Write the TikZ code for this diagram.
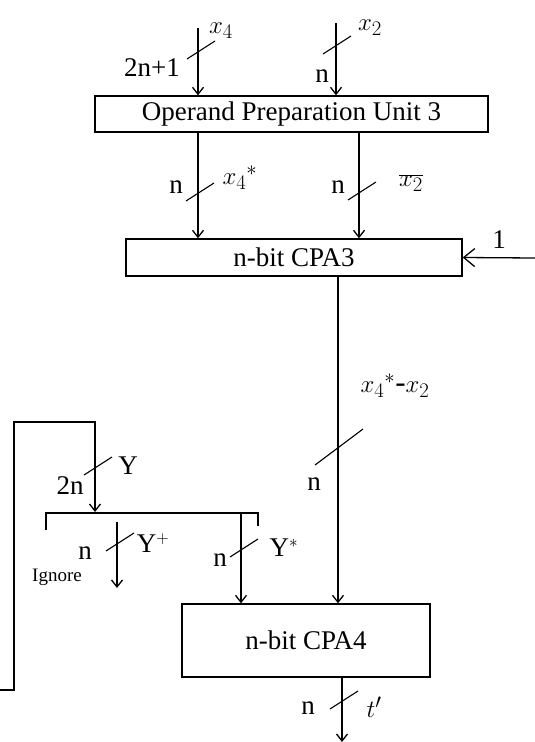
\documentclass[tikz,border=0pt]{standalone}
\usepackage{fontspec}
\setmainfont{Liberation Serif}
\usetikzlibrary{arrows.meta}

\begin{document}
\begin{tikzpicture}[x=1pt, y=-1pt,
  unit/.style={draw, line width=1.4pt, inner sep=0pt, font=\fontsize{27}{30}\selectfont},
  wire/.style={-{Straight Barb[length=7pt, width=11pt]}, line width=1.3pt},
  plain/.style={line width=1.3pt},
  bus/.style={line width=1.1pt},
  lbl/.style={inner sep=0pt, font=\fontsize{27}{30}\selectfont},
  mlbl/.style={inner sep=0pt, font=\fontsize{31}{34}\selectfont},
  note/.style={inner sep=0pt, font=\fontsize{19}{21}\selectfont}
]
\useasboundingbox (0,0) rectangle (535,742);

% blocks
\node[unit, minimum width=393pt, minimum height=36pt] (opu) at (291.5,114) {Operand Preparation Unit 3};
\node[unit, minimum width=336pt, minimum height=37pt] (cpa3) at (294,257.5) {n-bit CPA3};
\node[unit, minimum width=248pt, minimum height=73pt] (cpa4) at (306,640.5) {n-bit CPA4};

% free ends and columns
\coordinate (x4in) at (198,28);
\coordinate (x2in) at (336,23);
\coordinate (x2col) at (359,0);
\coordinate (onein) at (535,258);
\coordinate (sumcol) at (338,0);
\coordinate (fbin) at (0,690);
\coordinate (ysplit) at (95,512);
\coordinate (ystar) at (241,513);
\coordinate (yplus) at (117,522);
\coordinate (yign) at (117,588);
\coordinate (tout) at (342,742);

% connectors
\draw[wire] (x4in) -- (x4in |- opu.north);
\draw[wire] (x2in) -- (x2in |- opu.north);
\draw[wire] (opu.south -| x4in) -- (cpa3.north -| x4in);
\draw[wire] (opu.south -| x2col) -- (cpa3.north -| x2col);
\draw[wire, -{Straight Barb[length=11pt, width=18pt]}] (onein) -- (cpa3.east);
\draw[wire] (cpa3.south -| sumcol) -- (cpa4.north -| sumcol);
\draw[wire] (fbin) -- (14,690) -- (14,422) -| (ysplit);
\draw[plain] (46,530) -- (46,513) -- (258,513) -- (258,526);
\draw[wire] (yplus) -- (yign);
\draw[wire] (ystar) -- (cpa4.north -| ystar);
\draw[wire] (cpa4.south -| tout) -- (tout);

% bus width marks
\foreach \px/\py in {201/50, 337/45, 200/192, 362/191, 98/466, 120/542, 244/548, 344/700}
  \draw[bus] (\px,\py) ++(-14,9) -- ++(28,-18);
\draw[bus] (339,447) ++(-24,18) -- ++(48,-36);

% labels
\node[mlbl] (lx4) at (221,31) {$x_4$};
\node[lbl] (lw1) at (152,68) {2n+1};
\node[mlbl] (lx2) at (370,28) {$x_2$};
\node[lbl] (lw2) at (322,76) {n};
\node[mlbl] (lx4s) at (240,178) {${x_4}^{*}$};
\node[lbl] (lw3) at (176,187) {n};
\node[lbl] (lw4) at (338,187) {n};
\node[mlbl] (lx2b) at (411,183) {$\overline{x_2}$};
\node[lbl] (lone) at (499,240) {1};
\node[mlbl] (ldiff) at (395,386) {${x_4}^{*}$-$x_2$};
\node[lbl] (lw5) at (314,484) {n};
\node[lbl] (lY) at (128,466) {Y};
\node[lbl] (lw6) at (70,486) {2n};
\node[lbl] (lYp) at (153,543) {Y$^{+}$};
\node[lbl] (lw7) at (85,553) {n};
\node[note] (lign) at (57,577) {Ignore};
\node[lbl] (lYs) at (284,548) {Y$^{*}$};
\node[lbl] (lw8) at (220,560) {n};
\node[mlbl] (lt) at (374,707) {$t'$};
\node[lbl] (lw9) at (308,708) {n};
\end{tikzpicture}
\end{document}
